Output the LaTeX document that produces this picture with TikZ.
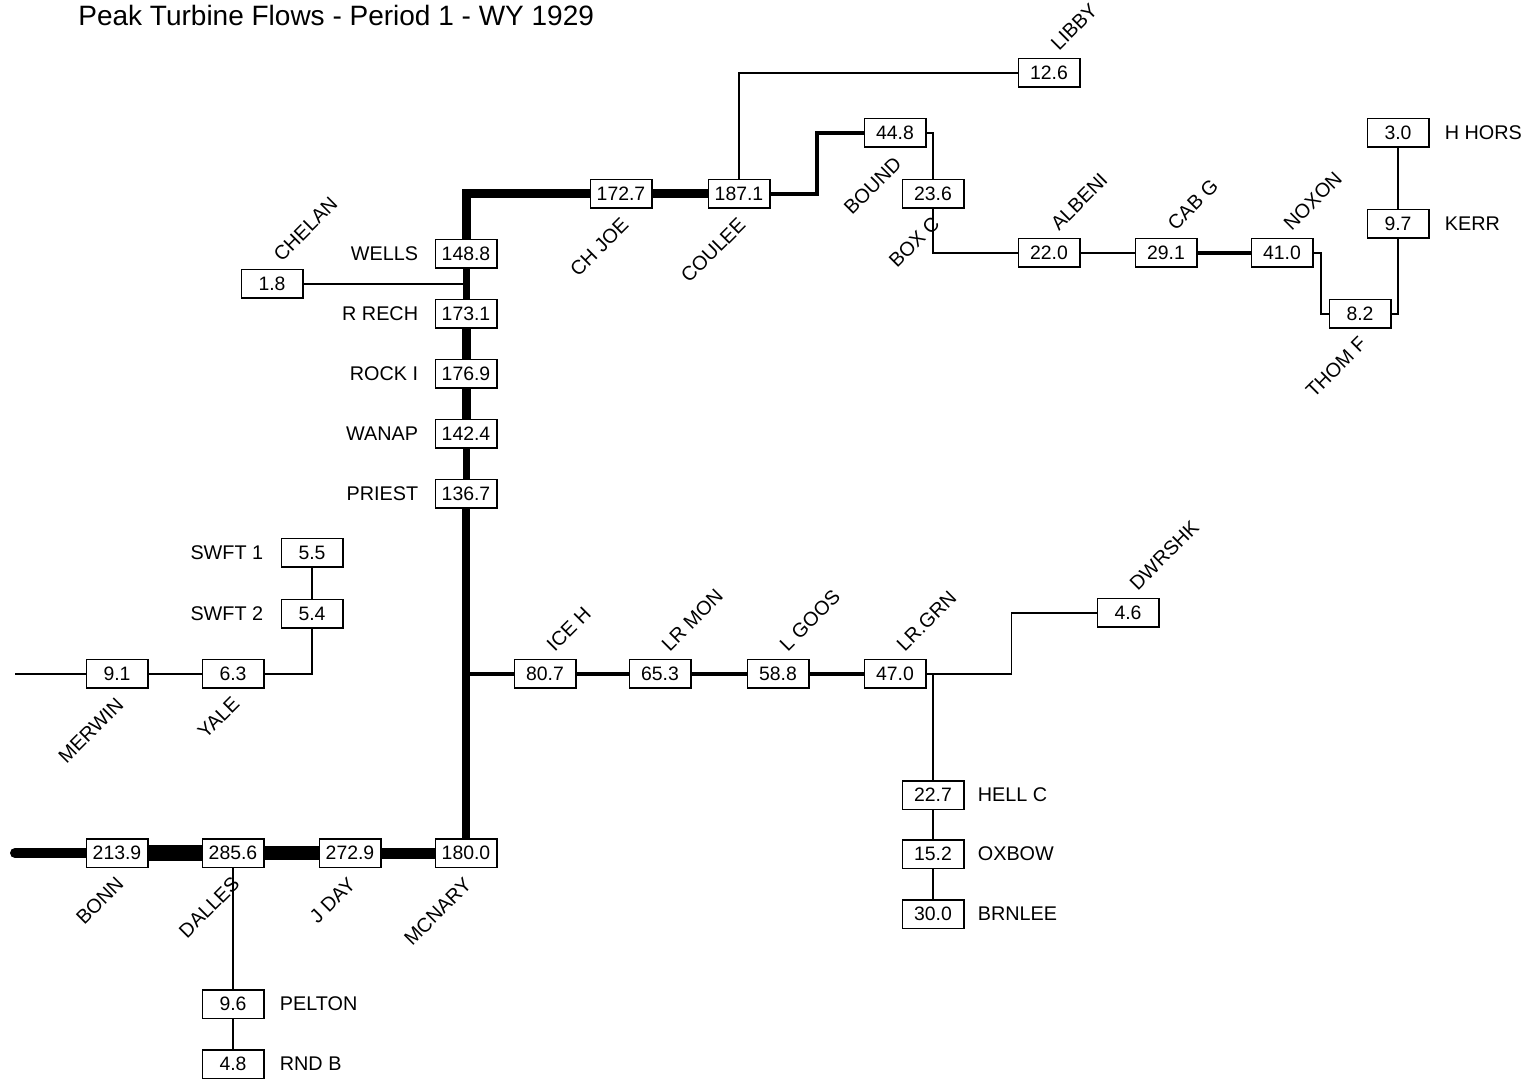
\documentclass[tikz,border=0pt]{standalone}
\usepackage{fontspec}
\setmainfont{Liberation Sans}
\usetikzlibrary{calc,backgrounds}
\newcommand\boxfont{\fontsize{9.7}{11}\selectfont}
\newcommand\lblfont{\fontsize{9.9}{11}\selectfont}
\newcommand\ttlfont{\fontsize{14}{16}\selectfont}
\tikzset{
  box/.style={draw, line width=0.75pt, fill=white, minimum width=30.75pt, minimum height=14.25pt, inner sep=0pt, font=\boxfont},
  lup/.style={rotate=45, anchor=south west, inner sep=0pt, font=\lblfont},
  ldn/.style={rotate=45, anchor=north east, inner sep=0pt, font=\lblfont},
  lleft/.style={anchor=east, inner sep=0pt, font=\lblfont},
  lright/.style={anchor=west, inner sep=0pt, font=\lblfont},
  cthin/.style={line width=0.65pt},
  cmed/.style={line width=2.2pt},
  cw7/.style={line width=3.5pt},
  cw8/.style={line width=4pt},
  cw9/.style={line width=4.5pt, line join=miter},
  cw10/.style={line width=5pt},
  cw11/.style={line width=5.5pt},
  cw14/.style={line width=7pt},
  cw16/.style={line width=8pt},
}
\begin{document}
\begin{tikzpicture}[x=0.5pt,y=-0.5pt]
\useasboundingbox (0,0) rectangle (1532,1079);
\node[anchor=base west, inner sep=0pt, font=\ttlfont] (title) at (78,26) {Peak Turbine Flows - Period 1 - WY 1929};

% boxes
\node[box] (b126) at (1049,73) {12.6};
\node[box] (b448) at (895,133) {44.8};
\node[box] (b236) at (933,194) {23.6};
\node[box] (b30) at (1398,133) {3.0};
\node[box] (b97) at (1398,224) {9.7};
\node[box] (b1727) at (621,194) {172.7};
\node[box] (b1871) at (739,194) {187.1};
\node[box] (b1488) at (466,254) {148.8};
\node[box] (b18) at (272,284) {1.8};
\node[box] (b220) at (1049,253) {22.0};
\node[box] (b291) at (1166,253) {29.1};
\node[box] (b410) at (1282,253) {41.0};
\node[box] (b82) at (1360,314) {8.2};
\node[box] (b1731) at (466,314) {173.1};
\node[box] (b1769) at (466,374) {176.9};
\node[box] (b1424) at (466,434) {142.4};
\node[box] (b1367) at (466,494) {136.7};
\node[box] (b55) at (312,553) {5.5};
\node[box] (b54) at (312,614) {5.4};
\node[box] (b91) at (117,674) {9.1};
\node[box] (b63) at (233,674) {6.3};
\node[box] (b46) at (1128,613) {4.6};
\node[box] (b807) at (545,674) {80.7};
\node[box] (b653) at (660,674) {65.3};
\node[box] (b588) at (778,674) {58.8};
\node[box] (b470) at (895,674) {47.0};
\node[box] (b227) at (933,795) {22.7};
\node[box] (b152) at (933,854) {15.2};
\node[box] (b300) at (933,914) {30.0};
\node[box] (b2139) at (117,853) {213.9};
\node[box] (b2856) at (233,853) {285.6};
\node[box] (b2729) at (350,853) {272.9};
\node[box] (b1800) at (466,853) {180.0};
\node[box] (b96) at (233,1004) {9.6};
\node[box] (b48) at (233,1064) {4.8};

\coordinate (mwend) at (15,674);
\coordinate (bnend) at (15,853);

% connectors
\begin{pgfonlayer}{background}
\draw[cw9] (b1727.west) -| (b1488.north);
\draw[cw9] (b1727) -- (b1871);
\draw[cthin] (b1871.north) |- (b126.west);
\draw[cmed] (b1871.east) -| ($(b1871.east)!.5!(b448.west)$) |- (b448.west);
\draw[cthin] (b448.east) -| (b236.north);
\draw[cthin] (b236.south) |- (b220.west);
\draw[cthin] (b220) -- (b291);
\draw[cmed] (b291) -- (b410);
\draw[cthin] (b410.east) -| ($(b410.east)!.5!(b82.west)$) |- (b82.west);
\draw[cthin] (b82.east) -| (b97.south);
\draw[cthin] (b97) -- (b30);
\draw[cw7] (b1488) -- (b1731);
\draw[cthin] (b18.east) -- (b18.east -| b1488);
\draw[cw9] (b1731) -- (b1769);
\draw[cw9] (b1769) -- (b1424);
\draw[cw7] (b1424) -- (b1367);
\draw[cw8] (b1367) -- (b1800);
\draw[cmed] (b807.west -| b1367) -- (b807.west);
\draw[cmed] (b807) -- (b653);
\draw[cmed] (b653) -- (b588);
\draw[cmed] (b588) -- (b470);
\draw[cthin] (b470.east) -| ($(b470.east)!.5!(b46.west)$) |- (b46.west);
\draw[cthin] (b470.east -| b227) -- (b227.north);
\draw[cthin] (b227) -- (b152);
\draw[cthin] (b152) -- (b300);
\draw[cthin] (mwend) -- (b91);
\draw[cthin] (b91) -- (b63);
\draw[cthin] (b63.east) -| (b54.south);
\draw[cthin] (b54) -- (b55);
\draw[cw10, line cap=round] (bnend) -- (b2139.west);
\draw[cw16] (b2139) -- (b2856);
\draw[cw14] (b2856) -- (b2729);
\draw[cw11] (b2729) -- (b1800);
\draw[cthin] (b2856) -- (b96);
\draw[cthin] (b96) -- (b48);
\end{pgfonlayer}

% labels above (rotated)
\node[lup] (lchelan) at ($(b18.north)+(10,-6)$) {CHELAN};
\node[lup] (llibby) at ($(b126.north)+(10,-6)$) {LIBBY};
\node[lup] (lalbeni) at ($(b220.north)+(10,-6)$) {ALBENI};
\node[lup] (lcabg) at ($(b291.north)+(10,-6)$) {CAB G};
\node[lup] (lnoxon) at ($(b410.north)+(10,-6)$) {NOXON};
\node[lup] (liceh) at ($(b807.north)+(10,-6)$) {ICE H};
\node[lup] (llrmon) at ($(b653.north)+(10,-6)$) {LR MON};
\node[lup] (llgoos) at ($(b588.north)+(10,-6)$) {L GOOS};
\node[lup] (llrgrn) at ($(b470.north)+(10,-6)$) {LR.GRN};
\node[lup] (ldwrshk) at ($(b46.north)+(10,-6)$) {DWRSHK};

% labels below (rotated)
\node[ldn] (lchjoe) at ($(b1727.south)+(-1,7)$) {CH JOE};
\node[ldn] (lcoulee) at ($(b1871.south)+(-2,7)$) {COULEE};
\node[ldn] (lbound) at ($(b448.south)+(-2,7)$) {BOUND};
\node[ldn] (lboxc) at ($(b236.south)+(-2,6)$) {BOX C};
\node[ldn] (lthomf) at ($(b82.south)+(-2,6)$) {THOM F};
\node[ldn] (lmerwin) at ($(b91.south)+(-2,7)$) {MERWIN};
\node[ldn] (lyale) at ($(b63.south)+(-2,6)$) {YALE};
\node[ldn] (lbonn) at ($(b2139.south)+(-2,7)$) {BONN};
\node[ldn] (ldalles) at ($(b2856.south)+(-2,7)$) {DALLES};
\node[ldn] (ljday) at ($(b2729.south)+(-3,8)$) {J DAY};
\node[ldn] (lmcnary) at ($(b1800.south)+(-3,8)$) {MCNARY};

% horizontal labels
\node[lleft] (lwells) at ($(b1488.west)+(-16,0)$) {WELLS};
\node[lleft] (lrrech) at ($(b1731.west)+(-16,0)$) {R RECH};
\node[lleft] (lrocki) at ($(b1769.west)+(-16,0)$) {ROCK I};
\node[lleft] (lwanap) at ($(b1424.west)+(-16,0)$) {WANAP};
\node[lleft] (lpriest) at ($(b1367.west)+(-16,0)$) {PRIEST};
\node[lleft] (lswft1) at ($(b55.west)+(-17,0)$) {SWFT 1};
\node[lleft] (lswft2) at ($(b54.west)+(-17,0)$) {SWFT 2};
\node[lright] (lhhors) at ($(b30.east)+(15,0)$) {H HORS};
\node[lright] (lkerr) at ($(b97.east)+(15,0)$) {KERR};
\node[lright] (lhellc) at ($(b227.east)+(13,0)$) {HELL C};
\node[lright] (loxbow) at ($(b152.east)+(13,0)$) {OXBOW};
\node[lright] (lbrnlee) at ($(b300.east)+(13,0)$) {BRNLEE};
\node[lright] (lpelton) at ($(b96.east)+(15,0)$) {PELTON};
\node[lright] (lrndb) at ($(b48.east)+(15,0)$) {RND B};
\end{tikzpicture}
\end{document}
